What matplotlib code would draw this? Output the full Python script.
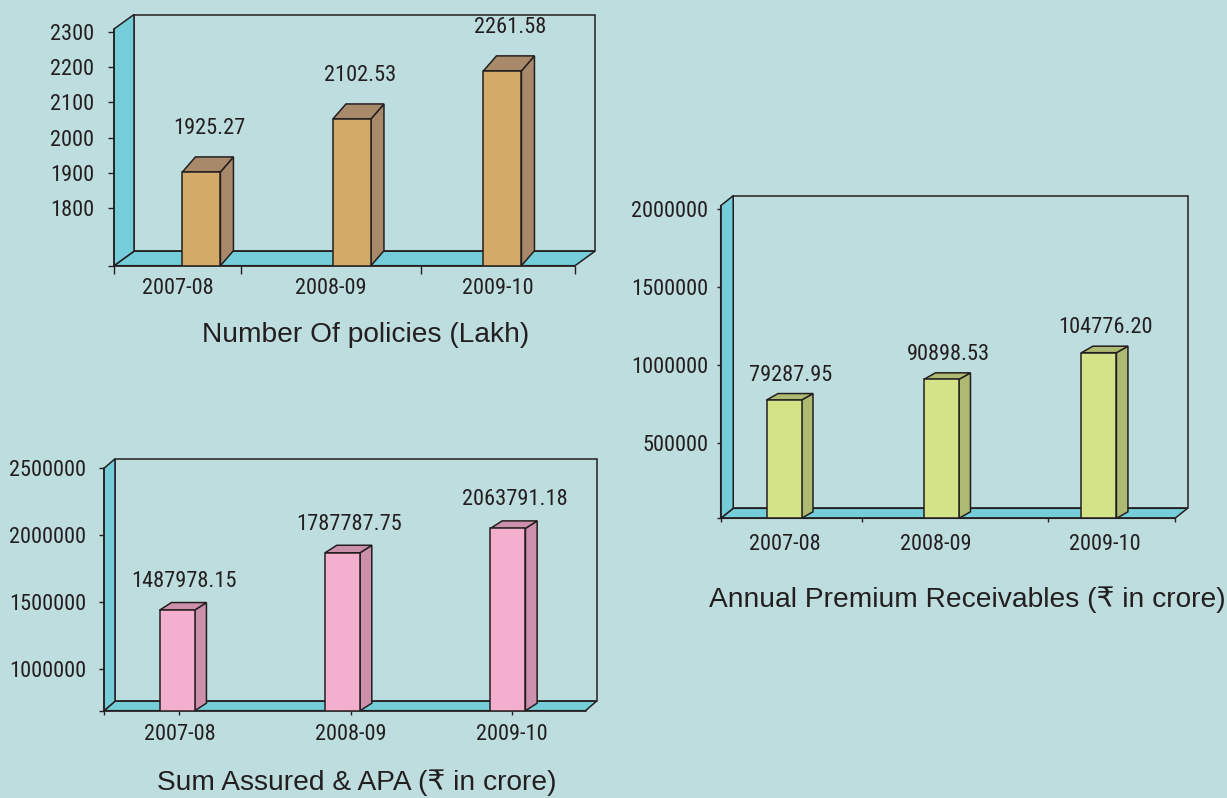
import matplotlib
matplotlib.use("Agg")
import matplotlib.pyplot as plt
from matplotlib.patches import Polygon
from matplotlib import font_manager
import numpy as np

# ---------------- data ----------------
years = ["2007-08", "2008-09", "2009-10"]

policies_values = [1902, 2053, 2190]            # bar heights as drawn
policies_labels = ["1925.27", "2102.53", "2261.58"]
policies_ticks = [1800, 1900, 2000, 2100, 2200, 2300]

premium_values = [773000, 906000, 1077000]      # bar heights as drawn
premium_labels = ["79287.95", "90898.53", "104776.20"]
premium_ticks = [500000, 1000000, 1500000, 2000000]

sum_values = [1441000, 1869000, 2051000]        # bar heights as drawn
sum_labels = ["1487978.15", "1787787.75", "2063791.18"]
sum_ticks = [1000000, 1500000, 2000000, 2500000]

# ---------------- style ----------------
W_PX, H_PX, DPI = 1227, 798, 100
PT = 72.0 / DPI            # points per pixel
BG = "#BEDDDF"
WALL = "#74CDD8"
EDGE = "#231F20"

available = {f.name for f in font_manager.fontManager.ttflist}
num_choice = "Liberation Sans"
for cand in ["Liberation Sans Narrow", "Arial Narrow", "Roboto Condensed",
             "Archivo Narrow", "PT Sans Narrow"]:
    if cand in available:
        num_choice = cand
        break
NUM_FAMILY = [num_choice, "DejaVu Sans"]
TITLE_FAMILY = ["Liberation Sans", "DejaVu Sans"]

fig = plt.figure(figsize=(W_PX / DPI, H_PX / DPI), dpi=DPI, facecolor=BG)
renderer = fig.canvas.get_renderer()


def fit_size(text, family, target_px, ref=20.0):
    t = fig.text(0, 0, text, family=family, fontsize=ref)
    w = t.get_window_extent(renderer).width
    t.remove()
    return ref * target_px / w


NUM_SIZE = fit_size("2000000", NUM_FAMILY, 77.7)
TITLE_SIZE = fit_size("Annual Premium Receivables (\u20b9 in crore)",
                      TITLE_FAMILY, 514)


def chart(box, xlim, ylim, values, labels, yticks, face, shade,
          wall_d, bar_d, bar_w_px, lab_off, ytick_len, ytick_pad,
          xlab_pos, xmajor_len, xlab_center, minor_pos, minor_len,
          title, title_xy):
    l, t, r, b = box
    ax = fig.add_axes([l / W_PX, 1 - b / H_PX, (r - l) / W_PX, (b - t) / H_PX])
    ax.set_xlim(xlim)
    ax.set_ylim(ylim)
    ax.patch.set_visible(False)
    x0, x1 = xlim
    y0, y1 = ylim
    sx = (x1 - x0) / (r - l)
    sy = (y1 - y0) / (b - t)
    wdx, wdy = wall_d[0] * sx, wall_d[1] * sy

    # back wall, floor and side wall of the 3-D frame
    ax.add_patch(Polygon([(x0 + wdx, y0 + wdy), (x0 + wdx, y1 + wdy),
                          (x1 + wdx, y1 + wdy), (x1 + wdx, y0 + wdy)],
                         closed=True, fc="none", ec=EDGE, lw=1.1,
                         clip_on=False, zorder=0.8))
    ax.add_patch(Polygon([(x0, y0), (x1, y0), (x1 + wdx, y0 + wdy),
                          (x0 + wdx, y0 + wdy)],
                         closed=True, fc=WALL, ec=EDGE, lw=1.1,
                         clip_on=False, zorder=1))
    ax.add_patch(Polygon([(x0, y0), (x0, y1), (x0 + wdx, y1 + wdy),
                          (x0 + wdx, y0 + wdy)],
                         closed=True, fc=WALL, ec=EDGE, lw=1.1,
                         clip_on=False, zorder=1))

    # bars
    w = bar_w_px * sx
    bdx, bdy = bar_d[0] * sx, bar_d[1] * sy
    xs = np.arange(len(values))
    vals = np.asarray(values, dtype=float)
    ax.bar(xs, vals - y0, bottom=y0, width=w, color=face, edgecolor=EDGE,
           linewidth=1.1, zorder=4)
    for x, v, lab in zip(xs, vals, labels):
        xr, xl = x + w / 2, x - w / 2
        ax.add_patch(Polygon([(xr, y0), (xr, v), (xr + bdx, v + bdy),
                              (xr + bdx, y0 + bdy)], closed=True,
                             fc=shade, ec=EDGE, lw=1.1, zorder=3.5,
                             clip_on=False))
        ax.add_patch(Polygon([(xl, v), (xr, v), (xr + bdx, v + bdy),
                              (xl + bdx, v + bdy)], closed=True,
                             fc=shade, ec=EDGE, lw=1.1, zorder=3.5,
                             clip_on=False))
        ax.annotate(lab, (x, v), xytext=(lab_off[0] * PT, lab_off[1] * PT),
                    textcoords="offset points", ha="center", va="center",
                    family=NUM_FAMILY, fontsize=NUM_SIZE, color=EDGE)

    # spines
    for s in ("top", "right"):
        ax.spines[s].set_visible(False)
    for s in ("left", "bottom"):
        ax.spines[s].set_color(EDGE)
        ax.spines[s].set_linewidth(1.1)
        ax.spines[s].set_zorder(2)

    # y axis
    ax.set_yticks([y0] + list(yticks))
    ax.set_yticklabels([""] + [str(v) for v in yticks])
    ax.tick_params(axis="y", direction="out", length=ytick_len * PT,
                   width=1.0, pad=ytick_pad * PT, colors=EDGE,
                   labelsize=NUM_SIZE)
    for tl in ax.get_yticklabels():
        tl.set_fontfamily(NUM_FAMILY)

    # x axis
    ax.set_xticks(xlab_pos)
    ax.set_xticklabels(years)
    ax.set_xticks(minor_pos, minor=True)
    ax.tick_params(axis="x", which="major", direction="out",
                   length=xmajor_len * PT, width=1.0,
                   pad=(xlab_center - xmajor_len) * PT, colors=EDGE,
                   labelsize=NUM_SIZE)
    ax.tick_params(axis="x", which="minor", direction="out",
                   length=minor_len * PT, width=1.0, colors=EDGE)
    for tk in ax.xaxis.get_major_ticks():
        tk.label1.set_va("center")
        tk.label1.set_fontfamily(NUM_FAMILY)

    fig.text(title_xy[0] / W_PX, 1 - title_xy[1] / H_PX, title,
             ha="center", va="center", family=TITLE_FAMILY,
             fontsize=TITLE_SIZE, color=EDGE)
    return ax


# Number of policies
chart(box=(114, 29, 575, 265.7), xlim=(-0.581, 2.482), ylim=(1634.7, 2309.4),
      values=policies_values, labels=policies_labels, yticks=policies_ticks,
      face="#D4AA69", shade="#A88A6A", wall_d=(20, 14.5), bar_d=(13, 15),
      bar_w_px=38, lab_off=(8, 43), ytick_len=6.5, ytick_pad=13.4,
      xlab_pos=[-0.16, 0.86, 1.97], xmajor_len=0, xlab_center=22.3,
      minor_pos=[-0.581, 0.262, 1.458, 2.482], minor_len=7.5,
      title="Number Of policies (Lakh)", title_xy=(366, 335))

# Annual premium receivables
chart(box=(720.7, 205.7, 1175, 518.3), xlim=(-0.402, 2.483),
      ylim=(14000, 2020500),
      values=premium_values, labels=premium_labels, yticks=premium_ticks,
      face="#D4E288", shade="#AEBA72", wall_d=(12.5, 10), bar_d=(11.5, 6.5),
      bar_w_px=35, lab_off=(6.5, 25), ytick_len=3.8, ytick_pad=8.4,
      xlab_pos=[0.006, 0.965, 2.04], xmajor_len=0, xlab_center=26.7,
      minor_pos=[-0.402, 0.497, 1.674, 2.483], minor_len=4.4,
      title="Annual Premium Receivables (\u20b9 in crore)", title_xy=(967, 600))

# Sum assured & APA
chart(box=(104, 468.3, 585.5, 710.7), xlim=(-0.443, 2.469),
      ylim=(689000, 2500000),
      values=sum_values, labels=sum_labels, yticks=sum_ticks,
      face="#F4AFCE", shade="#CC90AC", wall_d=(11, 9.5), bar_d=(11.7, 7.5),
      bar_w_px=35, lab_off=(6.7, 28.5), ytick_len=4.7, ytick_pad=13.3,
      xlab_pos=[0.013, 1.048, 2.025], xmajor_len=4.3, xlab_center=24.3,
      minor_pos=[-0.443], minor_len=4.3,
      title="Sum Assured & APA (\u20b9 in crore)", title_xy=(357, 783))

fig.savefig("out.png", dpi=DPI, facecolor=BG)
